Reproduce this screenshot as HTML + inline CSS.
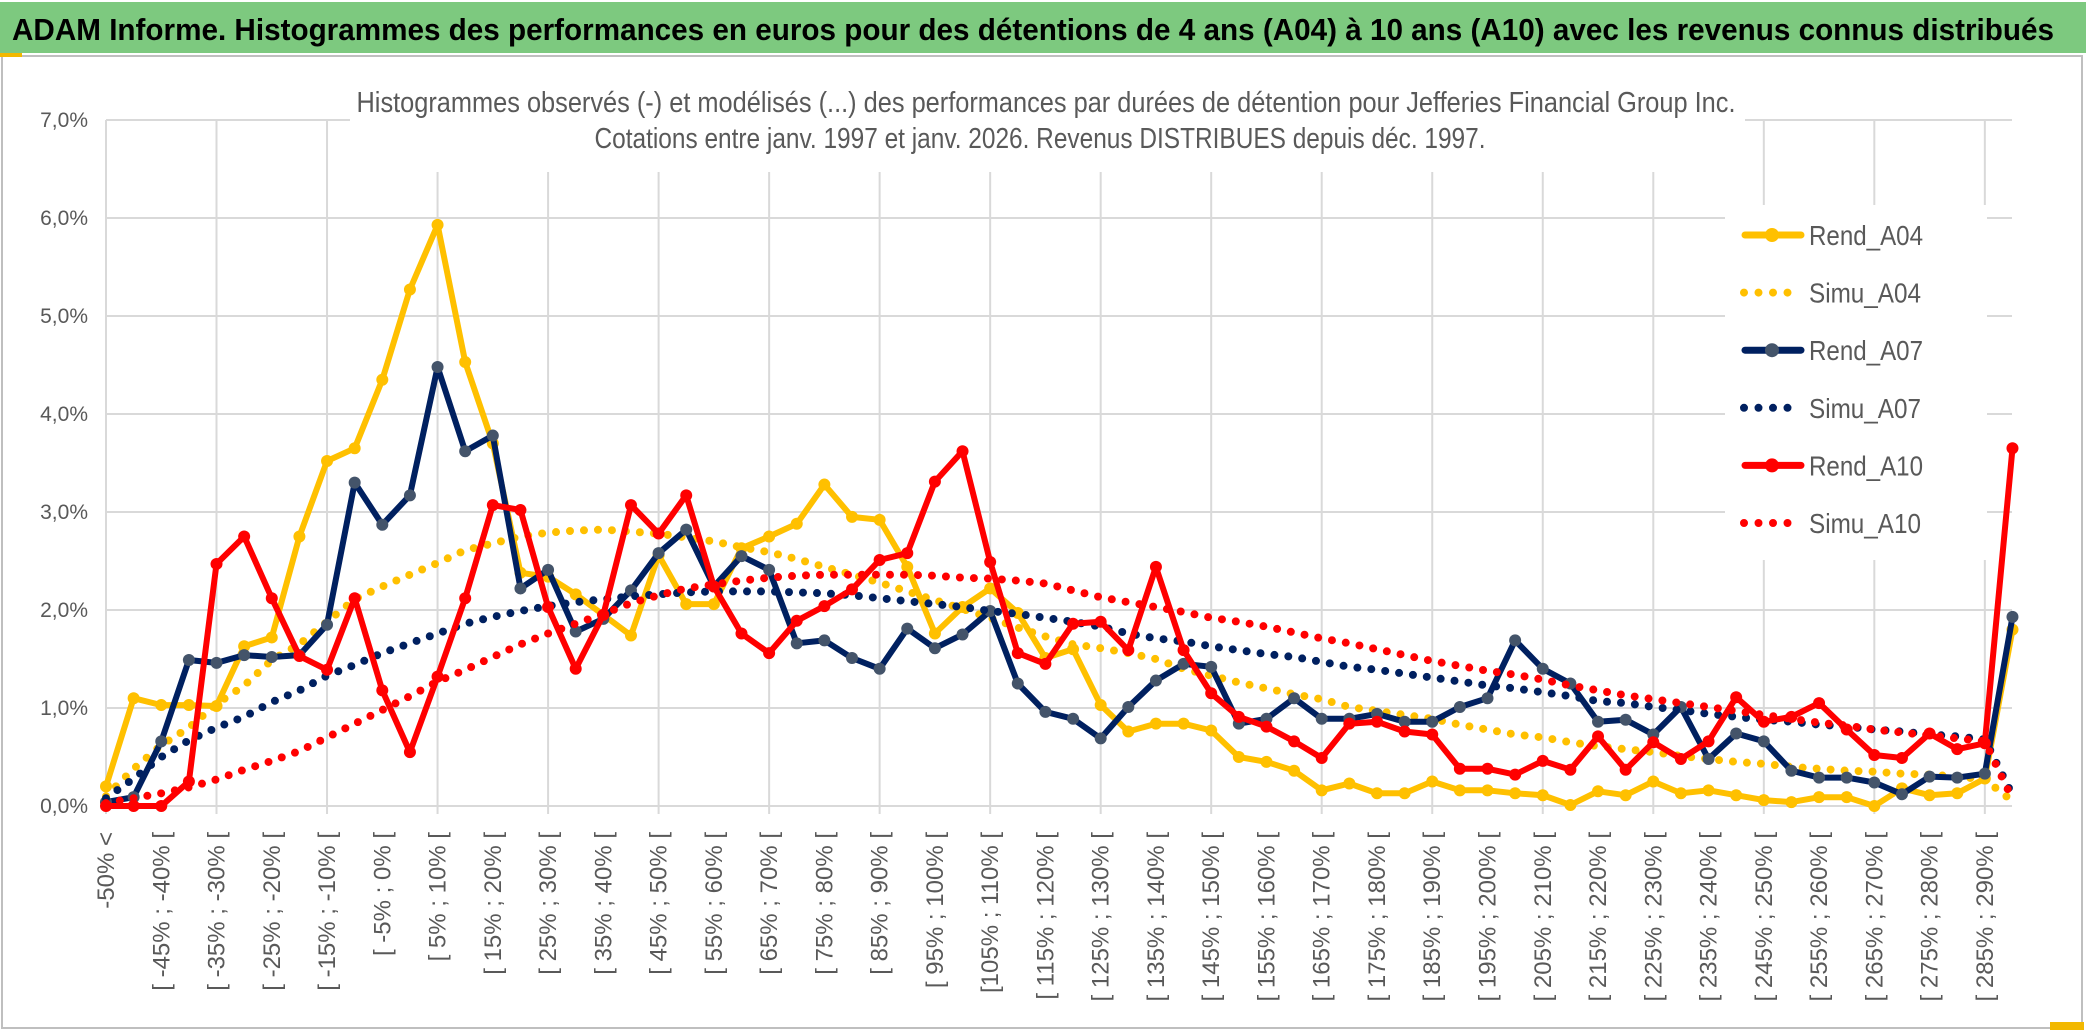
<!DOCTYPE html>
<html><head><meta charset="utf-8">
<style>
html,body{margin:0;padding:0;background:#fff;}
svg{display:block;font-family:"Liberation Sans",sans-serif;}
</style></head>
<body>
<svg id="chart" width="2086" height="1033" viewBox="0 0 2086 1033" xmlns="http://www.w3.org/2000/svg">
  <rect x="0" y="0" width="2086" height="1033" fill="#fff"/>
  <rect x="2" y="56" width="2080" height="972" fill="#fff" stroke="#bfbfbf" stroke-width="2"/>
  <rect x="0" y="2" width="2086" height="51" fill="#7dc97f"/>
  <rect x="0" y="53" width="22" height="4" fill="#f2b800"/>
  <rect x="2050" y="1022" width="34" height="8" fill="#f2b800"/>
  <text x="12" y="40" font-size="31" font-weight="bold" fill="#000" textLength="2042" lengthAdjust="spacingAndGlyphs">ADAM Informe. Histogrammes des performances en euros pour des détentions de 4 ans (A04) à 10 ans (A10) avec les revenus connus distribués</text>
  <g id="grid"></g>
  <rect x="350" y="60" width="1395" height="112" fill="#fff"/>
  <text x="1046" y="112" font-size="29" fill="#595959" text-anchor="middle" textLength="1379" lengthAdjust="spacingAndGlyphs">Histogrammes observés (-) et modélisés (...) des performances par durées de détention pour Jefferies Financial Group Inc.</text>
  <text x="1040" y="148" font-size="29" fill="#595959" text-anchor="middle" textLength="891" lengthAdjust="spacingAndGlyphs">Cotations entre janv. 1997 et janv. 2026. Revenus DISTRIBUES depuis déc. 1997.</text>
  <g id="yaxis"></g>
  <g id="xaxis"></g>
  <g id="series"></g>
  <g id="legend"></g>
</svg>
<script>
const categories = ["-50% <","[ -50% ; -45% [","[ -45% ; -40% [","[ -40% ; -35% [","[ -35% ; -30% [","[ -30% ; -25% [","[ -25% ; -20% [","[ -20% ; -15% [","[ -15% ; -10% [","[ -10% ; -5% [",
"[ -5% ; 0% [","[ 0% ; 5% [","[ 5% ; 10% [","[ 10% ; 15% [","[ 15% ; 20% [","[ 20% ; 25% [","[ 25% ; 30% [","[ 30% ; 35% [","[ 35% ; 40% [","[ 40% ; 45% [",
"[ 45% ; 50% [","[ 50% ; 55% [","[ 55% ; 60% [","[ 60% ; 65% [","[ 65% ; 70% [","[ 70% ; 75% [","[ 75% ; 80% [","[ 80% ; 85% [","[ 85% ; 90% [","[ 90% ; 95% [",
"[ 95% ; 100% [","[ 100% ; 105% [","[105% ; 110% [","[ 110% ; 115% [","[ 115% ; 120% [","[ 120% ; 125% [","[ 125% ; 130% [","[ 130% ; 135% [","[ 135% ; 140% [","[ 140% ; 145% [",
"[ 145% ; 150% [","[ 150% ; 155% [","[ 155% ; 160% [","[ 160% ; 165% [","[ 165% ; 170% [","[ 170% ; 175% [","[ 175% ; 180% [","[ 180% ; 185% [","[ 185% ; 190% [","[ 190% ; 195% [",
"[ 195% ; 200% [","[ 200% ; 205% [","[ 205% ; 210% [","[ 210% ; 215% [","[ 215% ; 220% [","[ 220% ; 225% [","[ 225% ; 230% [","[ 230% ; 235% [","[ 235% ; 240% [","[ 240% ; 245% [",
"[ 245% ; 250% [","[ 250% ; 255% [","[ 255% ; 260% [","[ 260% ; 265% [","[ 265% ; 270% [","[ 270% ; 275% [","[ 275% ; 280% [","[ 280% ; 285% [","[ 285% ; 290% [","290% >="];
const yTicks = [0,1,2,3,4,5,6,7];
const yTickLabels = ["0,0%","1,0%","2,0%","3,0%","4,0%","5,0%","6,0%","7,0%"];
const rendA04 = [0.20,1.10,1.03,1.03,1.02,1.63,1.72,2.75,3.52,3.65,4.35,5.27,5.93,4.53,3.70,2.38,2.34,2.16,1.95,1.74,2.56,2.06,2.06,2.63,2.75,2.88,3.28,2.95,2.92,2.44,1.76,2.03,2.22,1.97,1.51,1.60,1.03,0.76,0.84,0.84,0.77,0.50,0.45,0.36,0.16,0.23,0.13,0.13,0.25,0.16,0.16,0.13,0.11,0.01,0.15,0.11,0.25,0.13,0.16,0.11,0.06,0.04,0.09,0.09,0.00,0.18,0.11,0.13,0.28,1.80];
const simuA04 = [0.10,0.38,0.62,0.80,1.04,1.23,1.49,1.65,1.88,2.11,2.24,2.36,2.48,2.61,2.68,2.75,2.79,2.81,2.82,2.80,2.78,2.74,2.70,2.64,2.59,2.52,2.44,2.36,2.28,2.19,2.10,2.01,1.92,1.82,1.73,1.65,1.61,1.56,1.50,1.40,1.33,1.26,1.20,1.14,1.09,1.01,0.97,0.93,0.89,0.83,0.78,0.73,0.70,0.65,0.61,0.58,0.55,0.51,0.48,0.45,0.43,0.40,0.38,0.36,0.35,0.33,0.32,0.30,0.27,0.05];
const rendA07 = [0.04,0.09,0.66,1.49,1.46,1.54,1.52,1.54,1.85,3.30,2.87,3.17,4.48,3.62,3.78,2.22,2.41,1.78,1.91,2.20,2.58,2.82,2.24,2.55,2.41,1.66,1.69,1.51,1.40,1.81,1.61,1.75,1.99,1.25,0.96,0.89,0.69,1.01,1.28,1.45,1.42,0.84,0.89,1.10,0.89,0.89,0.94,0.86,0.86,1.01,1.10,1.69,1.40,1.25,0.86,0.88,0.73,1.01,0.48,0.74,0.66,0.36,0.29,0.29,0.24,0.12,0.30,0.29,0.33,1.93];
const simuA07 = [0.08,0.28,0.50,0.67,0.80,0.91,1.06,1.18,1.33,1.44,1.56,1.66,1.76,1.86,1.93,1.99,2.04,2.08,2.11,2.14,2.16,2.18,2.19,2.19,2.19,2.18,2.17,2.15,2.12,2.09,2.06,2.03,1.99,1.96,1.92,1.88,1.83,1.76,1.71,1.68,1.63,1.59,1.55,1.52,1.47,1.42,1.39,1.35,1.31,1.27,1.23,1.20,1.16,1.12,1.07,1.05,1.01,0.98,0.94,0.91,0.88,0.86,0.83,0.81,0.78,0.76,0.73,0.71,0.68,0.11];
const rendA10 = [0.00,0.00,0.00,0.25,2.47,2.75,2.12,1.53,1.39,2.12,1.18,0.55,1.32,2.12,3.07,3.02,2.03,1.40,1.95,3.07,2.78,3.17,2.24,1.76,1.56,1.89,2.04,2.21,2.51,2.58,3.31,3.62,2.49,1.56,1.45,1.86,1.88,1.59,2.44,1.59,1.15,0.91,0.81,0.66,0.49,0.84,0.86,0.76,0.73,0.38,0.38,0.32,0.46,0.37,0.71,0.37,0.65,0.48,0.66,1.11,0.86,0.91,1.05,0.78,0.52,0.49,0.74,0.58,0.64,3.65];
const simuA10 = [0.03,0.08,0.13,0.19,0.27,0.37,0.46,0.56,0.70,0.84,0.98,1.12,1.27,1.39,1.52,1.65,1.76,1.86,1.96,2.07,2.15,2.22,2.26,2.30,2.33,2.35,2.36,2.36,2.36,2.36,2.35,2.33,2.32,2.30,2.27,2.20,2.13,2.08,2.03,1.98,1.92,1.88,1.83,1.77,1.71,1.66,1.60,1.54,1.48,1.43,1.38,1.34,1.29,1.23,1.18,1.13,1.09,1.05,1.01,0.97,0.93,0.89,0.85,0.82,0.78,0.75,0.72,0.69,0.66,0.07];

const NS = "http://www.w3.org/2000/svg";
const X0 = 106, XSTEP = 27.63, Y0 = 806, YUNIT = 98, XRIGHT = 2012;
function xPos(i){ return X0 + i * XSTEP; }
function yPos(v){ return Y0 - v * YUNIT; }
function mk(tag, attrs, parent){
  const e = document.createElementNS(NS, tag);
  for (const k in attrs) e.setAttribute(k, attrs[k]);
  parent.appendChild(e);
  return e;
}
const grid = document.getElementById('grid');
yTicks.forEach(function(t){
  const l = mk('line', {x1:X0, x2:XRIGHT, y1:yPos(t), y2:yPos(t), stroke:'#d9d9d9', 'stroke-width':2}, grid);
  
  
});
for (let i = 0; i < categories.length; i += 4) {
  const l = mk('line', {x1:xPos(i), x2:xPos(i), y1:yPos(7), y2:Y0 + 8, stroke:'#d9d9d9', 'stroke-width':2}, grid);
  
  
}
const yaxis = document.getElementById('yaxis');
yTicks.forEach(function(t, k){
  const tx = mk('text', {x:88, y:yPos(t) + 7, 'font-size':21, fill:'#595959', 'text-anchor':'end'}, yaxis);
  tx.textContent = yTickLabels[k];
  
  
});
const xaxis = document.getElementById('xaxis');
for (let i = 0; i < categories.length - 1; i += 2) {
  const cx = xPos(i) + 8, cy = 832;
  const tx = mk('text', {x:cx, y:cy, 'font-size':24, fill:'#595959', 'text-anchor':'end', transform:'rotate(-90 ' + cx + ' ' + cy + ')'}, xaxis);
  tx.textContent = categories[i];
  
  
}
const seriesLayer = document.getElementById('series');
function pathFor(vals){
  return vals.map(function(v, i){ return (i ? 'L' : 'M') + xPos(i).toFixed(1) + ' ' + yPos(v).toFixed(1); }).join(' ');
}
function drawRend(vals, color, markerFill, name){
  const g = mk('g', {}, seriesLayer);
  
  
  const p = mk('path', {d:pathFor(vals), fill:'none', stroke:color, 'stroke-width':6, 'stroke-linejoin':'round'}, g);
  
  
  vals.forEach(function(v, i){
    const c = mk('circle', {cx:xPos(i), cy:yPos(v), r:6, fill:markerFill}, g);
    
    
  });
}
function drawSimu(vals, color, name){
  const p = mk('path', {d:pathFor(vals), fill:'none', stroke:color, 'stroke-width':8, 'stroke-linecap':'round', 'stroke-dasharray':'0 14'}, seriesLayer);
  
  
}
drawRend(rendA04, '#FFC000', '#FFC000', 'rend-a04');
drawSimu(simuA04, '#FFC000', 'simu-a04');
drawRend(rendA07, '#002060', '#44546A', 'rend-a07');
drawSimu(simuA07, '#002060', 'simu-a07');
drawRend(rendA10, '#FF0000', '#FF0000', 'rend-a10');
drawSimu(simuA10, '#FF0000', 'simu-a10');

const legend = document.getElementById('legend');
const bg = mk('rect', {x:1725, y:205, width:262, height:355, fill:'#fff'}, legend);


const legendNames = ['Rend_A04','Simu_A04','Rend_A07','Simu_A07','Rend_A10','Simu_A10'];
const legendColors = ['#FFC000','#FFC000','#002060','#002060','#FF0000','#FF0000'];
const legendMarkers = ['#FFC000','','#44546A','','#FF0000',''];
legendNames.forEach(function(nm, k){
  const y = 235 + k * 57.6;
  const g = mk('g', {}, legend);
  
  
  if (k % 2 === 0) {
    mk('line', {x1:1745, x2:1801, y1:y, y2:y, stroke:legendColors[k], 'stroke-width':7, 'stroke-linecap':'round'}, g);
    mk('circle', {cx:1772, cy:y, r:7, fill:legendMarkers[k]}, g);
  } else {
    mk('line', {x1:1744, x2:(k === 5 ? 1800 : 1790), y1:y, y2:y, stroke:legendColors[k], 'stroke-width':8, 'stroke-linecap':'round', 'stroke-dasharray':'0 14.5'}, g);
  }
  const t = mk('text', {x:1809, y:y + 10, 'font-size':28, fill:'#595959', textLength:(k % 2 ? 112 : 114), lengthAdjust:'spacingAndGlyphs'}, g);
  t.textContent = nm;
  
  
});
</script>
</body></html>
